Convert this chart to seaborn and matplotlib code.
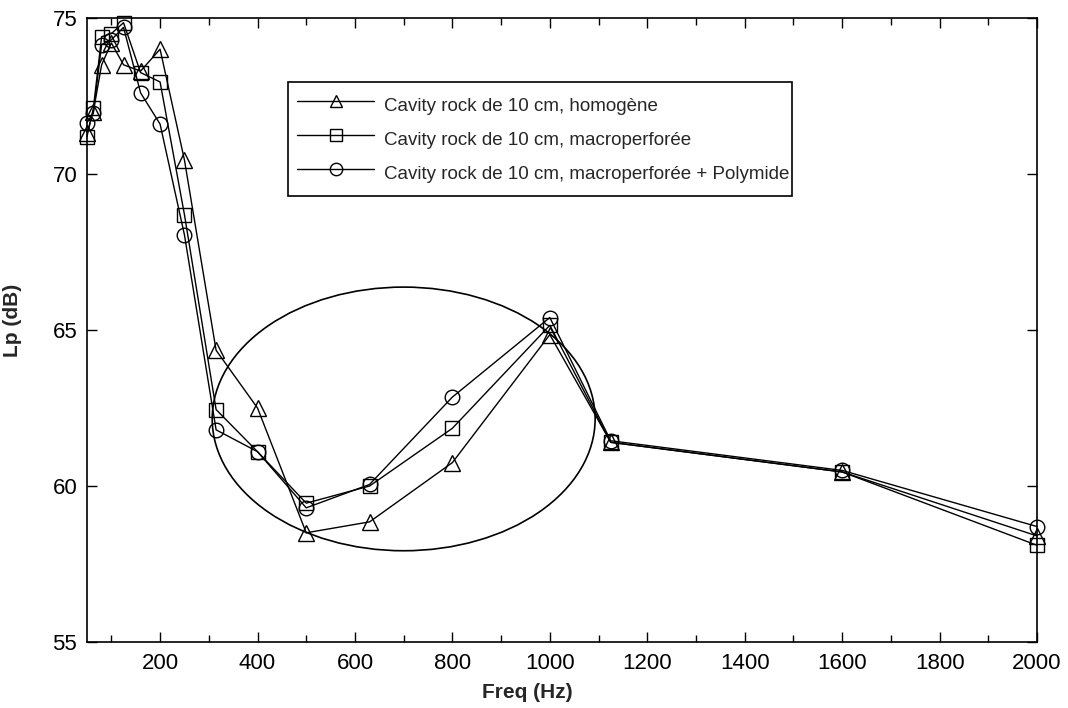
import matplotlib
matplotlib.use("Agg")
import matplotlib.pyplot as plt
from matplotlib.patches import Ellipse
from matplotlib.lines import Line2D
from matplotlib.ticker import MultipleLocator
import pandas as pd
import seaborn as sns

# Third-octave band centre frequencies (Hz)
freq = [50, 63, 80, 100, 125, 160, 200, 250, 315, 400, 500, 630, 800, 1000, 1125, 1600, 2000]

# Sound pressure level Lp (dB) for each configuration
lp_homogene = [71.3, 72.0, 73.5, 74.2, 73.5, 73.3, 74.0, 70.45, 64.35, 62.5, 58.5, 58.85,
               60.75, 64.85, 61.4, 60.45, 58.4]
lp_macro = [71.2, 72.1, 74.4, 74.5, 74.85, 73.25, 72.95, 68.7, 62.45, 61.1, 59.45, 60.0,
            61.85, 65.15, 61.4, 60.45, 58.1]
lp_polymide = [71.65, 71.95, 74.15, 74.3, 74.7, 72.6, 71.6, 68.05, 61.8, 61.1, 59.3, 60.05,
               62.85, 65.4, 61.45, 60.5, 58.7]

labels = [
    "Cavity rock de 10 cm, homogène",
    "Cavity rock de 10 cm, macroperforée",
    "Cavity rock de 10 cm, macroperforée + Polymide",
]
markers = ["^", "s", "o"]
marker_sizes = [11, 10.5, 10.5]

x_ticks = [200, 400, 600, 800, 1000, 1200, 1400, 1600, 1800, 2000]
y_ticks = [55, 60, 65, 70, 75]

# Highlighted frequency zone (centre Hz, centre dB, width Hz, height dB)
zone_center = (700, 62.15)
zone_width = 786
zone_height = 8.45

sns.set_theme(style="ticks")
plt.rcParams["font.family"] = ["Liberation Sans", "DejaVu Sans"]

fig = plt.figure(figsize=(10.68, 7.08), dpi=100)
ax = fig.add_axes([87 / 1068, 66 / 708, 950 / 1068, 624 / 708])
ax.set_facecolor("white")

series = [lp_homogene, lp_macro, lp_polymide]
for lab, vals, mk, ms in zip(labels, series, markers, marker_sizes):
    df = pd.DataFrame({"freq": freq, "lp": vals})
    sns.lineplot(data=df, x="freq", y="lp", ax=ax, color="black", lw=1.0,
                 marker=mk, markersize=ms, markerfacecolor="none",
                 markeredgecolor="black", markeredgewidth=1.0, clip_on=False,
                 sort=False, estimator=None, legend=False)

ax.add_patch(Ellipse(zone_center, zone_width, zone_height, fill=False,
                     edgecolor="black", lw=1.2))

ax.set_xlim(50, 2000)
ax.set_ylim(55, 75)
ax.set_xticks(x_ticks)
ax.set_yticks(y_ticks)
ax.xaxis.set_minor_locator(MultipleLocator(100))
ax.tick_params(which="both", direction="in", top=True, right=True, width=1.0,
               colors="black")
ax.tick_params(which="major", length=7.5, labelsize=16)
ax.tick_params(which="minor", length=5)
ax.tick_params(axis="x", which="major", pad=8)
ax.tick_params(axis="y", which="major", pad=7)
for sp in ax.spines.values():
    sp.set_visible(True)
    sp.set_color("black")
    sp.set_linewidth(1.2)

ax.set_xlabel("Freq (Hz)", fontsize=15, fontweight="bold")
ax.set_ylabel("Lp (dB)", fontsize=15, fontweight="bold")
ax.xaxis.set_label_coords(0.464, -0.066)
ax.yaxis.set_label_coords(-0.068, 0.516)

handles = [Line2D([], [], color="black", lw=1.0, marker=mk, markersize=ms * 0.85,
                  markerfacecolor="none", markeredgecolor="black", markeredgewidth=1.0)
           for mk, ms in zip(markers, marker_sizes)]
leg = ax.legend(handles, labels, loc="upper left",
                bbox_to_anchor=(0.2116, 0.897, 0.5305, 0.0), mode="expand",
                borderaxespad=0, fontsize=13.5, handlelength=4.1,
                handleheight=1.8, handletextpad=0.5, labelspacing=0.4,
                borderpad=0.5, fancybox=False, framealpha=1, edgecolor="black")
leg.get_frame().set_linewidth(1.2)

fig.savefig("out.png", dpi=100, facecolor="white")
